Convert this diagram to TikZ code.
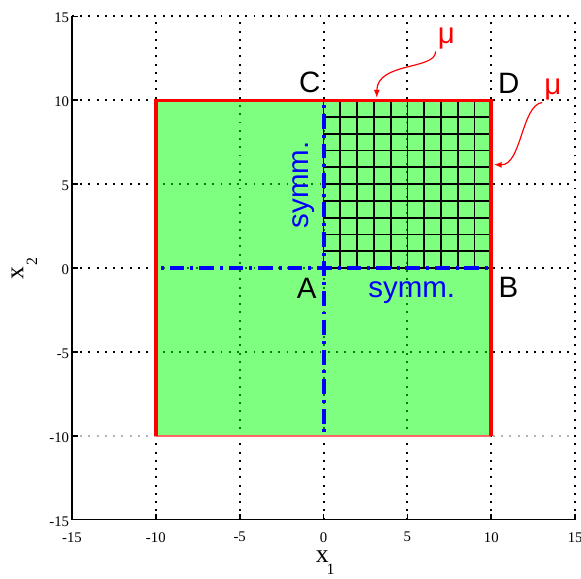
\documentclass[tikz,border=0pt]{standalone}
\usepackage{fontspec}
\setmainfont{Liberation Sans}
\newfontfamily\serifdigits{Liberation Serif}
\usepackage{tikz}
\usetikzlibrary{arrows.meta}

\begin{document}
\begin{tikzpicture}[
  x=0.3cm, y=0.3cm,
  gridline/.style={line width=1pt, dash pattern=on 1pt off 3.2pt},
  axisline/.style={line width=0.9pt},
  border/.style={red, line width=1.8pt},
  symline/.style={blue, line width=2pt, dash pattern=on 1.5pt off 3pt on 7.5pt off 3pt},
  meshline/.style={black, line width=0.9pt},
  cornerlabel/.style={font=\fontsize{15}{18}\selectfont, inner sep=0pt},
  symlabel/.style={blue, font=\fontsize{15}{18}\selectfont, inner sep=0pt, anchor=base},
  mulabel/.style={red, font=\fontsize{15}{18}\selectfont, inner sep=1pt, anchor=base},
  ticklabel/.style={font=\serifdigits\fontsize{7.5}{9}\selectfont, inner sep=0pt},
  axislabel/.style={font=\serifdigits\fontsize{13}{15}\selectfont, inner sep=0pt, anchor=base},
  pointer/.style={-{Latex[length=4pt, width=3pt]}, red, line width=0.6pt}
]
\useasboundingbox (-19.29,-18.49) rectangle (15.35,15.98);
% dotted grid
\draw[gridline] (-10,-15) -- (-10,15) (-5,-15) -- (-5,15) (0,-15) -- (0,15)
  (5,-15) -- (5,15) (10,-15) -- (10,15) (15,-15) -- (15,15);
\draw[gridline] (-15,-5) -- (15,-5) (-15,0) -- (15,0) (-15,5) -- (15,5)
  (-15,10) -- (15,10) (-15,15) -- (15,15);
\draw[gridline, black!30] (-15,-10) -- (15,-10);
% domain
\fill[green, fill opacity=0.5] (-10,-10) rectangle (10,10);
\draw[meshline, step=1] (0,0) grid (10,10);
\draw[red!60, line width=0.9pt] (-10,-10) -- (10,-10);
\draw[border] (-10,-10) -- (-10,10) -- (10,10) -- (10,-10);
\draw[symline] (-9.7,0) -- (9.8,0);
\draw[symline] (0,-9.8) -- (0,9.8);
% axes
\draw[axisline] (-15,15) -- (-15,-15) -- (15,-15);
\draw[axisline] (-10,-15) -- ++(0,0.35) (-5,-15) -- ++(0,0.35) (0,-15) -- ++(0,0.35)
  (5,-15) -- ++(0,0.35) (10,-15) -- ++(0,0.35) (15,-15) -- ++(0,0.35);
\draw[axisline] (-15,-10) -- ++(0.35,0) (-15,-5) -- ++(0.35,0) (-15,0) -- ++(0.35,0)
  (-15,5) -- ++(0.35,0) (-15,10) -- ++(0.35,0) (-15,15) -- ++(0.35,0);
\node[ticklabel] (xm15) at (-15,-16.05) {-15};
\node[ticklabel] (xm10) at (-10,-16.05) {-10};
\node[ticklabel] (xm5) at (-5,-16.05) {-5};
\node[ticklabel] (x0) at (0,-16.05) {0};
\node[ticklabel] (x5) at (5,-16.05) {5};
\node[ticklabel] (x10) at (10,-16.05) {10};
\node[ticklabel] (x15) at (15,-16.05) {15};
\node[ticklabel, anchor=east] (ym15) at (-15.15,-15.1) {-15};
\node[ticklabel, anchor=east] (ym10) at (-15.15,-10.1) {-10};
\node[ticklabel, anchor=east] (ym5) at (-15.15,-5.1) {-5};
\node[ticklabel, anchor=east] (y0) at (-15.15,-0.1) {0};
\node[ticklabel, anchor=east] (y5) at (-15.15,4.9) {5};
\node[ticklabel, anchor=east] (y10) at (-15.15,9.9) {10};
\node[ticklabel, anchor=east] (y15) at (-15.15,14.9) {15};
\node[axislabel] (xlabel) at (0.1,-17.55) {x\hspace{-1pt}\raisebox{-6pt}{\fontsize{8}{9}\selectfont 1}};
\node[axislabel, rotate=90] (ylabel) at (-17.9,-0.05) {x\hspace{0.5pt}\raisebox{-7pt}{\fontsize{8}{9}\selectfont 2}};
% labels
\node[cornerlabel] (C) at (-0.82,11.05) {C};
\node[cornerlabel] (D) at (11.04,11.02) {D};
\node[cornerlabel] (A) at (-1.0,-1.19) {A};
\node[cornerlabel] (B) at (11.02,-1.14) {B};
\node[symlabel] (symmH) at (5.26,-1.74) {symm.};
\node[symlabel, rotate=90] (symmV) at (-0.9,4.97) {symm.};
\node[mulabel] (muTop) at (7.33,13.39) {μ};
\node[mulabel] (muSide) at (13.68,10.35) {μ};
\coordinate (topEdge) at (3.17,10.15);
\coordinate (sideEdge) at (10.15,6.17);
\draw[pointer] (muTop.south west) .. controls (6.7,11.8) and (3.2,12.3) .. (topEdge);
\draw[pointer] (muSide.south west) .. controls (11.8,9.7) and (11.8,6.1) .. (sideEdge);
\end{tikzpicture}
\end{document}
